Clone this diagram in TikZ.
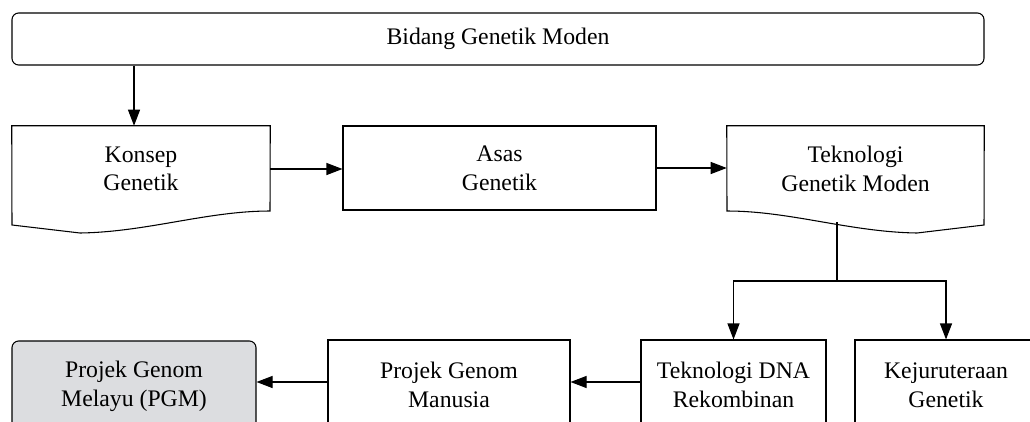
\documentclass[tikz,border=0pt]{standalone}
\usepackage{fontspec}
\setmainfont{Liberation Serif}
\usepackage{tikz}
\usetikzlibrary{arrows.meta,calc}

\definecolor{pgmgrey}{RGB}{220,221,224}
\tikzset{
    box/.style={draw, line width=0.8pt, align=center, inner sep=0pt},
    doc/.style={align=center, inner sep=0pt},
    arr/.style={line width=0.8pt, -{Triangle[length=12pt,width=9pt]}},
    link/.style={line width=0.8pt}
}

\begin{document}
\begin{tikzpicture}[x=0.75pt, y=-0.75pt, font=\fontsize{17.8}{21.5}\selectfont]
    \useasboundingbox (0,0) rectangle (1030,421);

    % Top
    \node[box, rounded corners=5pt, minimum width=972*0.75pt, minimum height=52*0.75pt] (bidang) at (498,39) {Bidang Genetik Moden};

    % Middle row
    \node[doc, minimum width=258*0.75pt, minimum height=86*0.75pt] (konsep) at (141,169) {Konsep\\Genetik};
    \draw[link] (konsep.north east) -- (konsep.north west) -- (12,225) -- (80,233)
        .. controls (147,232) and (207,211) .. (270,211) -- cycle;
    \node[box, minimum width=313*0.75pt, minimum height=84*0.75pt] (asas) at (499.5,168) {Asas\\Genetik};
    \node[doc, minimum width=257*0.75pt, minimum height=86*0.75pt] (tek) at (855.5,169) {Teknologi\\Genetik Moden};
    \draw[link] (tek.north west) -- (tek.north east) -- (984,225) -- (917,233)
        .. controls (850,232) and (790,211) .. (727,211) -- cycle;
    \coordinate (tekfoot) at (837,222);
    \coordinate (split) at (837,281);

    % Bottom row
    \node[box, fill=pgmgrey, rounded corners=5pt, minimum width=244*0.75pt, minimum height=90*0.75pt] (pgm) at (134,386) {Projek Genom\\Melayu (PGM)};
    \node[box, minimum width=242*0.75pt, minimum height=90*0.75pt] (manusia) at (449,385) {Projek Genom\\Manusia};
    \node[box, minimum width=185*0.75pt, minimum height=90*0.75pt] (dna) at (733.5,385) {Teknologi DNA\\Rekombinan};
    \node[box, minimum width=182*0.75pt, minimum height=90*0.75pt] (kej) at (946,385) {Kejuruteraan\\Genetik};

    % Arrows
    \coordinate (kin) at ($(konsep.north west)!0.473!(konsep.north east)$);
    \draw[arr] (kin |- bidang.south) -- (kin);
    \draw[arr] (konsep.east) -- (konsep.east -| asas.west);
    \draw[arr] (asas.east) -- (asas.east -| tek.west);
    \draw[link] (tekfoot) -- (split);
    \draw[arr] (split) -| (dna.north);
    \draw[arr] (split) -| (kej.north);
    \draw[arr] ($(dna.west)+(0,-3)$) -- ($(manusia.east)+(0,-3)$);
    \draw[arr] ($(manusia.west)+(0,-3)$) -- ($(pgm.east)+(0,-4)$);

\end{tikzpicture}
\end{document}
